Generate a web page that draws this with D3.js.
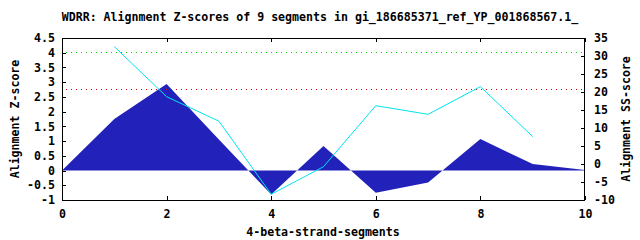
<!DOCTYPE html>
<html><head><meta charset="utf-8">
<script src="https://cdn.jsdelivr.net/npm/d3@7"></script>
<style>
body{margin:0;background:#fff;}
text{font-family:"DejaVu Sans Mono",monospace;font-weight:bold;font-size:11.6px;fill:#000;}
</style></head><body>
<svg id="c" width="640" height="240"></svg>
<script>
const title = "WDRR: Alignment Z-scores of 9 segments in gi_186685371_ref_YP_001868567.1_";
const zX = [0,1,2,3,4,5,6,7,8,9,10];
const zScores = [0,1.75,2.94,1.05,-0.81,0.83,-0.75,-0.41,1.07,0.22,0.02];
const ssX = [1,2,3,4,5,6,7,8,9];
const ssScores = [32.6,18.7,11.9,-8.4,-0.75,16.2,13.8,21.5,7.6];
const thresholds = [{z:4.02,color:"#00cc00"},{z:2.76,color:"#e00000"}];
const xTicks = [0,2,4,6,8,10];
const yTicks = [-1,-0.5,0,0.5,1,1.5,2,2.5,3,3.5,4,4.5];
const y2Ticks = [-10,-5,0,5,10,15,20,25,30,35];

const svg = d3.select("#c");
const L=62,R=585,T=38,B=200;
const x = d3.scaleLinear().domain([0,10]).range([L,R]);
const y = d3.scaleLinear().domain([-1,4.5]).range([B,T]);
const y2 = d3.scaleLinear().domain([-10,35]).range([B,T]);

svg.append("path").datum(zX.map((d,i)=>[d,zScores[i]]))
  .attr("fill","#2222bb")
  .attr("d",d3.area().x(d=>x(d[0])).y0(y(0)).y1(d=>y(d[1])));

thresholds.forEach(t=>{
  svg.append("line").attr("x1",x(0)+4).attr("x2",x(10)-3)
    .attr("y1",Math.round(y(t.z))+0.5).attr("y2",Math.round(y(t.z))+0.5)
    .attr("stroke",t.color).attr("stroke-width",1).attr("stroke-dasharray","1,4")
    .attr("shape-rendering","crispEdges");
});

svg.append("path").datum(ssX.map((d,i)=>[d,ssScores[i]]))
  .attr("fill","none").attr("stroke","#00e5ee").attr("stroke-width",1)
  .attr("d",d3.line().x(d=>x(d[0])).y(d=>y2(d[1])));

const g = svg.append("g");
const tl = 4;
g.append("g").attr("transform",`translate(0,${B})`).call(d3.axisBottom(x).tickValues(xTicks).tickSize(-tl).tickPadding(10).tickFormat(d3.format("d")));
g.append("g").attr("transform",`translate(0,${T})`).call(d3.axisTop(x).tickValues(xTicks).tickSize(-tl).tickFormat(""));
g.append("g").attr("transform",`translate(${L},0)`).call(d3.axisLeft(y).tickValues(yTicks).tickSize(-tl).tickPadding(7).tickFormat(d=>String(d)));
g.append("g").attr("transform",`translate(${R},0)`).call(d3.axisRight(y2).tickValues(y2Ticks).tickSize(-tl).tickPadding(9).tickFormat(d=>String(d)));
g.selectAll(".domain").remove();
g.selectAll(".tick line").attr("stroke","#000").attr("shape-rendering","crispEdges");
g.selectAll("text").attr("font-family",null).attr("font-size",null).attr("fill","#000");
svg.append("rect").attr("x",L+0.5).attr("y",T+0.5).attr("width",R-L-1).attr("height",B-T)
  .attr("fill","none").attr("stroke","#000").attr("shape-rendering","crispEdges");

svg.append("text").attr("x",320).attr("y",21).attr("text-anchor","middle").text(title);
svg.append("text").attr("x",323).attr("y",236).attr("text-anchor","middle").text("4-beta-strand-segments");
svg.append("text").attr("transform",`translate(19,${(T+B)/2}) rotate(-90)`).attr("text-anchor","middle").text("Alignment Z-score");
svg.append("text").attr("transform",`translate(630,${(T+B)/2}) rotate(-90)`).attr("text-anchor","middle").text("Alignment SS-score");
</script></body></html>
